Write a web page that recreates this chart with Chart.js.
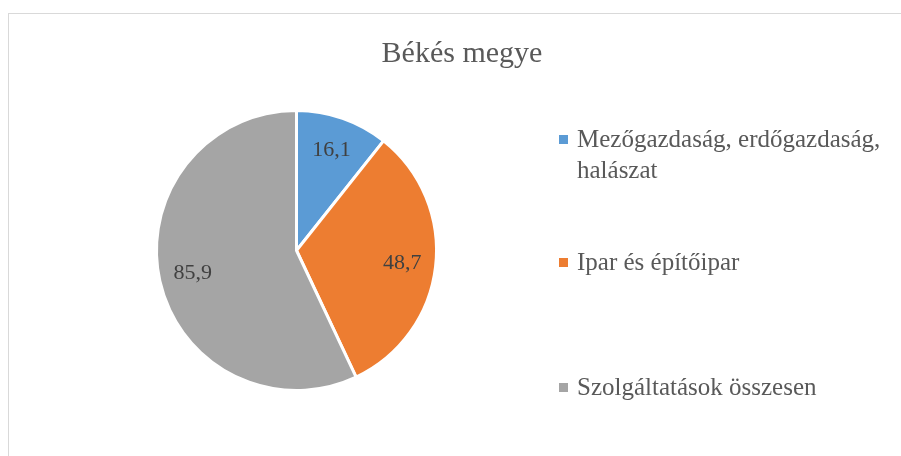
<!DOCTYPE html>
<html>
<head>
<meta charset="utf-8">
<script src="https://cdn.jsdelivr.net/npm/chart.js@4/dist/chart.umd.min.js"></script>
<style>
  html, body { margin: 0; padding: 0; background: #fff; overflow: hidden; }
  #frame {
    position: absolute; left: 8px; top: 13px; width: 1000px; height: 1000px;
    border: 1px solid #d9d9d9; box-sizing: border-box;
  }
  #wrap { position: absolute; left: 0; top: 0; width: 901px; height: 456px; }
</style>
</head>
<body>
<div id="frame"></div>
<div id="wrap"><canvas id="chart" width="901" height="456"></canvas></div>
<script>
const title = 'Békés megye';
const categories = [
    ['Mezőgazdaság, erdőgazdaság,', 'halászat'],
    'Ipar és építőipar',
    'Szolgáltatások összesen'
];
const values = [16.1, 48.7, 85.9];
const colors = ['#5B9BD5', '#ED7D31', '#A5A5A5'];

const serif = '"Liberation Serif", "Times New Roman", serif';

// title, value labels and the legend on the right are drawn by hand
const decorations = {
    id: 'decorations',
    afterDraw(chart) {
        const ctx = chart.ctx;
        ctx.save();

        ctx.fillStyle = '#595959';
        ctx.font = '30px ' + serif;
        ctx.textAlign = 'center';
        ctx.textBaseline = 'alphabetic';
        ctx.fillText(title, 462, 62);

        // values inside the slices
        const meta = chart.getDatasetMeta(0);
        ctx.fillStyle = '#404040';
        ctx.font = '22px ' + serif;
        ctx.textBaseline = 'middle';
        meta.data.forEach((arc, i) => {
            const p = arc.getProps(['x', 'y', 'startAngle', 'endAngle', 'outerRadius'], true);
            const mid = (p.startAngle + p.endAngle) / 2;
            const r = p.outerRadius * 0.76;
            const txt = values[i].toFixed(1).replace('.', ',');
            ctx.fillText(txt, p.x + Math.cos(mid) * r, p.y + Math.sin(mid) * r);
        });

        // legend
        const tops = [147, 270, 395];
        ctx.font = '25px ' + serif;
        ctx.textAlign = 'left';
        ctx.textBaseline = 'alphabetic';
        categories.forEach((label, i) => {
            const lines = Array.isArray(label) ? label : [label];
            ctx.fillStyle = colors[i];
            ctx.fillRect(559, tops[i] - 12, 9, 9);
            ctx.fillStyle = '#595959';
            lines.forEach((line, j) => ctx.fillText(line, 577, tops[i] + j * 31));
        });

        ctx.restore();
    }
};

new Chart(document.getElementById('chart').getContext('2d'), {
    type: 'pie',
    data: {
        labels: categories,
        datasets: [{
            data: values,
            backgroundColor: colors,
            borderColor: '#ffffff',
            borderWidth: 3
        }]
    },
    options: {
        responsive: false,
        animation: false,
        layout: { padding: { left: 155, right: 463, top: 109, bottom: 64 } },
        plugins: {
            legend: { display: false },
            tooltip: { enabled: false },
            title: { display: false }
        }
    },
    plugins: [decorations]
});
</script>
</body>
</html>
